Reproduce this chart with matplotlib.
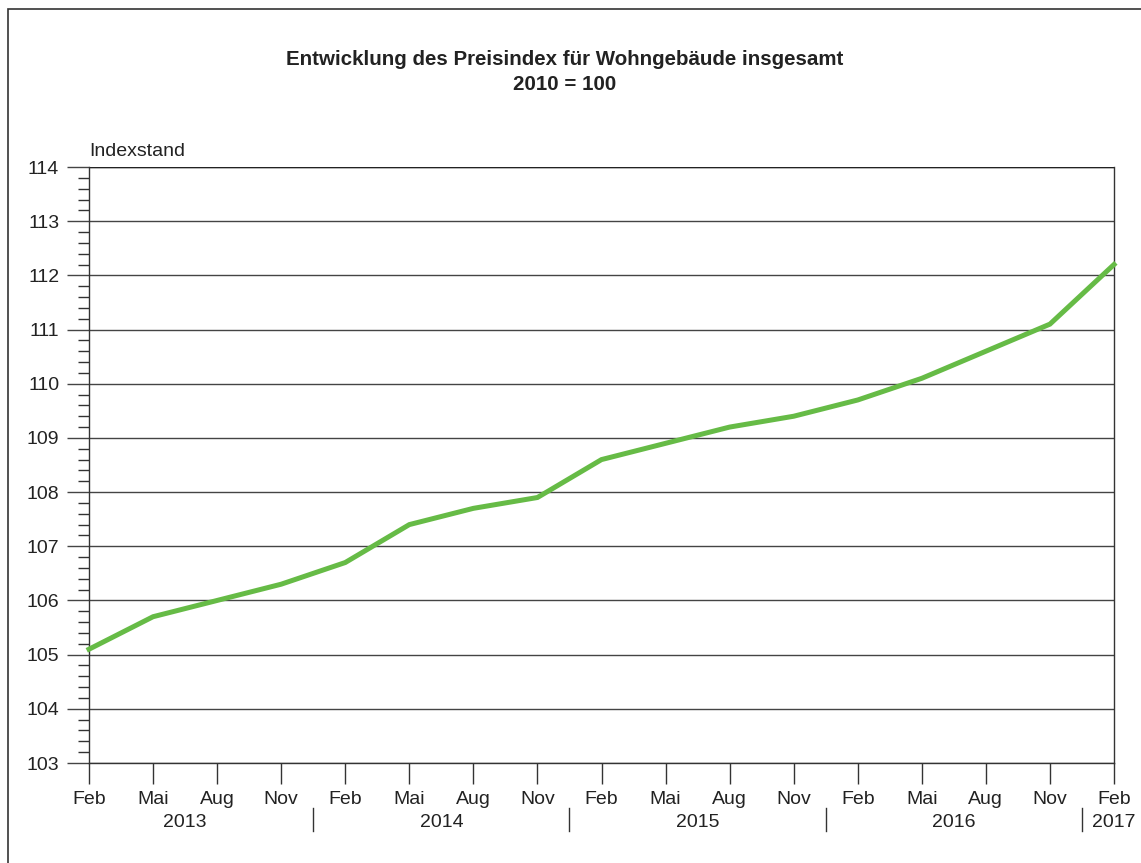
import matplotlib
matplotlib.use("Agg")
import matplotlib.pyplot as plt
from matplotlib.patches import Rectangle
from matplotlib.lines import Line2D
from matplotlib.ticker import MultipleLocator

plt.rcParams['font.family'] = ['Liberation Sans', 'DejaVu Sans']

months = ["Feb", "Mai", "Aug", "Nov", "Feb", "Mai", "Aug", "Nov", "Feb", "Mai", "Aug", "Nov",
          "Feb", "Mai", "Aug", "Nov", "Feb"]
values = [105.1, 105.7, 106.0, 106.3, 106.7, 107.4, 107.7, 107.9, 108.6, 108.9, 109.2, 109.4,
          109.7, 110.1, 110.6, 111.1, 112.2]
years = ["2013", "2014", "2015", "2016", "2017"]
year_centers = [1.5, 5.5, 9.5, 13.5, 16.0]
year_separators = [3.5, 7.5, 11.5, 15.5]

W, H = 1141, 863
fs = 14
fig = plt.figure(figsize=(W / 100, H / 100), dpi=100)

# outer frame
fig.patches.append(Rectangle((8 / W, -0.05), 1.2, 1 - 9 / H + 0.05, transform=fig.transFigure,
                             fill=False, edgecolor="#333333", linewidth=1.2, zorder=0))

ax = fig.add_axes([89 / W, 1 - 763 / H, (1114 - 89) / W, (763 - 167) / H])
x = list(range(len(values)))
ax.plot(x, values, color="#66BB46", linewidth=3.6, solid_joinstyle="miter", zorder=3, clip_on=False)

ax.set_xlim(0, 16)
ax.set_ylim(103, 114)
ax.yaxis.set_major_locator(MultipleLocator(1))
ax.yaxis.set_minor_locator(MultipleLocator(0.2))
ax.set_xticks(x)
ax.set_xticklabels(months)
ax.grid(axis="y", which="major", color="#444444", linewidth=1.0)
ax.spines["top"].set_visible(False)
for s in ["left", "right", "bottom"]:
    ax.spines[s].set_color("#333333")
    ax.spines[s].set_linewidth(1.0)
ax.tick_params(axis="y", which="major", length=16, width=1.0, color="#444444", labelsize=fs, pad=5.5)
ax.tick_params(axis="y", which="minor", length=8, width=1.0, color="#333333")
ax.tick_params(axis="x", which="major", length=15, width=1.0, color="#333333", labelsize=fs, pad=5)
for lab in ax.get_yticklabels() + ax.get_xticklabels():
    lab.set_color("#222222")

ax.axhline(114, color="#222222", linewidth=1.0, zorder=2)

# year labels & separators
trans = ax.get_xaxis_transform()
for c, yr in zip(year_centers, years):
    ax.text(c, -(822 - 763) / 596, yr, transform=trans, ha="center", va="center",
            fontsize=fs, color="#222222")
for s in year_separators:
    ax.add_line(Line2D([s, s], [-(808 - 763) / 596, -(831 - 763) / 596], transform=trans,
                       color="#333333", linewidth=1.0, clip_on=False))

fig.text(89 / W, 1 - 151 / H, "Indexstand", ha="left", va="center", fontsize=fs, color="#222222")
fig.text(565 / W, 1 - 59 / H, "Entwicklung des Preisindex für Wohngebäude insgesamt",
         ha="center", va="center", fontsize=14.8, fontweight="bold", color="#222222")
fig.text(565 / W, 1 - 84 / H, "2010 = 100", ha="center", va="center", fontsize=14.8,
         fontweight="bold", color="#222222")

fig.savefig("out.png", dpi=100)
